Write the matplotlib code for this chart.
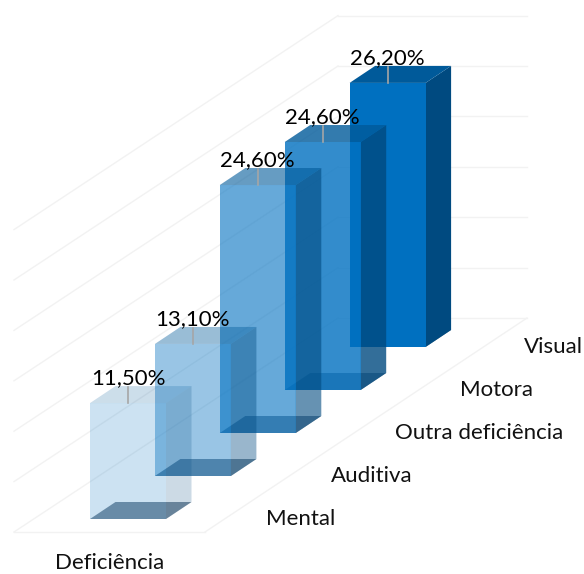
import matplotlib
matplotlib.use('Agg')
import matplotlib.pyplot as plt

plt.rcParams['font.family'] = ['Lato', 'DejaVu Sans']

# data
categories = ['Mental', 'Auditiva', 'Outra deficiência', 'Motora', 'Visual']
values = [11.5, 13.1, 24.6, 24.6, 26.2]
value_labels = ['11,50%', '13,10%', '24,60%', '24,60%', '26,20%']
series_name = 'Deficiência'
grid_values = [0, 5, 10, 15, 20, 25, 30]
opacities = [0.2, 0.4, 0.6, 0.8, 1.0]

# fake 3D layout, in pixels
PX_PER_UNIT = 10.08
STEP_X, STEP_Y = 64.9, -43
BAR_W = 76
DEPTH_X, DEPTH_Y = 25.5, -17
ORIGIN_X, ORIGIN_Y = 90, 519


def project(i, v=0, dx=0.0, depth=0.0):
    # i = category position, v = value, dx = 0..1 across the bar, depth = 0..1 into the bar
    x = ORIGIN_X + i * STEP_X + dx * BAR_W + depth * DEPTH_X
    y = ORIGIN_Y + i * STEP_Y - v * PX_PER_UNIT + depth * DEPTH_Y
    return x, y


def face(ax, pts, color, alpha):
    xs, ys = zip(*pts)
    ax.fill(xs, ys, color=color, alpha=alpha, lw=0, zorder=3)


fig = plt.figure(figsize=(5.84, 5.74), dpi=100)
ax = fig.add_axes([0, 0, 1, 1])
ax.set_xlim(0, 584)
ax.set_ylim(574, 0)
ax.axis('off')

# floor and walls
grid_col = '#F2F2F2'
left_x, right_x = 14, 205
back_left, back_right = 338, 527
floor_front, floor_back = 532, 318
for g in grid_values:
    off = g * PX_PER_UNIT
    ax.plot([left_x, back_left], [floor_front - off, floor_back - off], color=grid_col, lw=1, zorder=1)
    ax.plot([back_left, back_right], [floor_back - off, floor_back - off], color=grid_col, lw=1, zorder=1)
ax.plot([left_x, right_x], [floor_front, floor_front], color=grid_col, lw=1, zorder=1)
ax.plot([right_x, back_right], [floor_front, floor_back], color=grid_col, lw=1, zorder=1)

# bars, back to front
for i in reversed(range(len(values))):
    v = values[i]
    a = opacities[i]
    # floor face
    face(ax, [project(i, 0, 0, 0), project(i, 0, 1, 0), project(i, 0, 1, 1), project(i, 0, 0, 1)],
         '#2F4A63', 0.6)
    # side
    face(ax, [project(i, 0, 1, 0), project(i, 0, 1, 1), project(i, v, 1, 1), project(i, v, 1, 0)],
         '#004A80', a)
    # top
    face(ax, [project(i, v, 0, 0), project(i, v, 1, 0), project(i, v, 1, 1), project(i, v, 0, 1)],
         '#005A9A', a)
    # front
    face(ax, [project(i, 0, 0, 0), project(i, 0, 1, 0), project(i, v, 1, 0), project(i, v, 0, 0)],
         '#0070C0', a)

# leader lines and value labels
for i, v in enumerate(values):
    x, y = project(i, v, 0.5, 0)
    ax.plot([x, x], [y, y - 16], color='#A6A6A6', lw=1.2, zorder=4)
    ax.text(x, y - 19, value_labels[i], ha='center', va='baseline', fontsize=16, color='black', zorder=5)

# category labels sit on the same rise as the bars
for i, c in enumerate(categories):
    _, y = project(i, 0)
    ax.text(ORIGIN_X + 176 + i * 64.5, y, c, ha='left', va='center', fontsize=16, color='#111111', zorder=5)

ax.text(110, 569, series_name, ha='center', va='baseline', fontsize=16, color='#111111', zorder=5)

fig.savefig('out.png', dpi=100)
